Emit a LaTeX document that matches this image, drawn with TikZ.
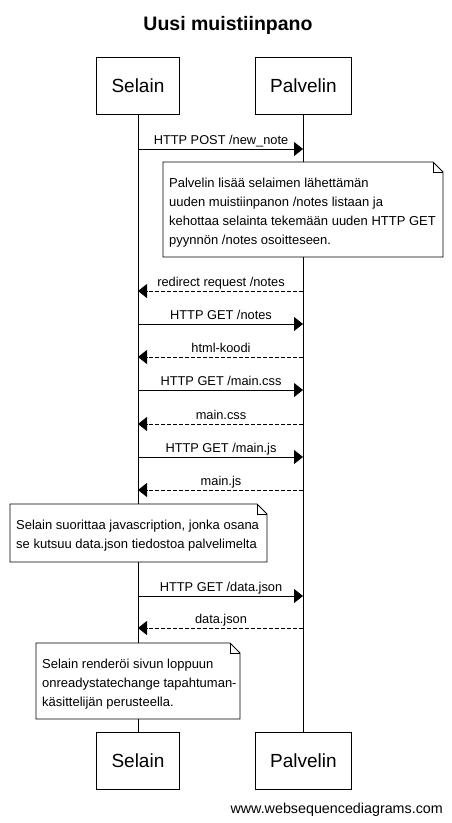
\documentclass[tikz,border=0pt]{standalone}
\usepackage{fontspec}
\setmainfont{Liberation Sans}
\usetikzlibrary{arrows.meta}
\begin{document}
\begin{tikzpicture}[x=1pt,y=-1pt,
  actor/.style={draw,line width=0.9pt,minimum width=#1,minimum height=57pt,font=\fontsize{19}{23}\selectfont,inner sep=0pt,anchor=north west},
  msg/.style={line width=0.8pt,-{Triangle[length=9pt,width=14pt]}},
  reply/.style={msg,dash pattern=on 4pt off 2pt},
  lbl/.style={font=\fontsize{12.8}{14}\selectfont,anchor=base,inner sep=0pt},
  notetext/.style={font=\fontsize{13}{19}\selectfont,align=left,anchor=north west,inner sep=0pt},
  life/.style={line width=0.8pt}]
\useasboundingbox (0,0) rectangle (452,823);
\fill[white] (0,0) rectangle (452,823);
\node[font=\bfseries\fontsize{19.5}{23}\selectfont] (title) at (228,25) {Uusi muistiinpano};
% actors
\node[actor=83pt] (s1) at (96,57) {Selain};
\node[actor=96pt] (p1) at (255,57) {Palvelin};
\node[actor=83pt] (s2) at (96,732) {Selain};
\node[actor=96pt] (p2) at (255,732) {Palvelin};
\coordinate (sx1) at (138,114);
\coordinate (px1) at (303,114);
\coordinate (sx2) at (138,732);
\coordinate (px2) at (303,732);
\draw[life] (sx1) -- (sx2);
\draw[life] (px1) -- (px2);
% messages
\newcommand\fwd[2]{%
  \coordinate (a) at (138,#1);
  \coordinate (b) at (303,#1);
  \draw[msg] (a) -- (b);
  \node[lbl] at (221,#1-5) {#2};
}
\newcommand\bwd[2]{%
  \coordinate (a) at (138,#1);
  \coordinate (b) at (303,#1);
  \draw[reply] (b) -- (a);
  \node[lbl] at (221,#1-5) {#2};
}
\fwd{149}{HTTP POST /new\_note}
\bwd{291}{redirect request /notes}
\fwd{324}{HTTP GET /notes}
\bwd{357}{html-koodi}
\fwd{390}{HTTP GET /main.css}
\bwd{424}{main.css}
\fwd{457}{HTTP GET /main.js}
\bwd{490}{main.js}
\fwd{596}{HTTP GET /data.json}
\bwd{628}{data.json}
% notes
\newcommand\notebox[5]{%
  \fill[white] (#1,#2) rectangle (#3,#4);
  \draw[line width=0.8pt] (#1,#2) -- (#3-10,#2) -- (#3,#2+10) -- (#3,#4) -- (#1,#4) -- cycle;
  \draw[line width=0.6pt] (#3-10,#2) -- (#3-10,#2+10) -- (#3,#2+10);
  \node[notetext] at (#1+6,#2+15.5) {#5};
}
\notebox{163}{162}{443}{257}{Palvelin lisää selaimen lähettämän\\uuden muistiinpanon /notes listaan ja\\kehottaa selainta tekemään uuden HTTP GET\\pyynnön /notes osoitteseen.}
\notebox{10}{504}{267}{562}{Selain suorittaa javascription, jonka osana\\se kutsuu data.json tiedostoa palvelimelta}
\notebox{36}{643}{240}{719}{Selain renderöi sivun loppuun\\onreadystatechange tapahtuman-\\käsittelijän perusteella.}
\node[font=\fontsize{14.3}{16}\selectfont,anchor=base east,inner sep=0pt] (wsd) at (443,813) {www.websequencediagrams.com};
\end{tikzpicture}
\end{document}
